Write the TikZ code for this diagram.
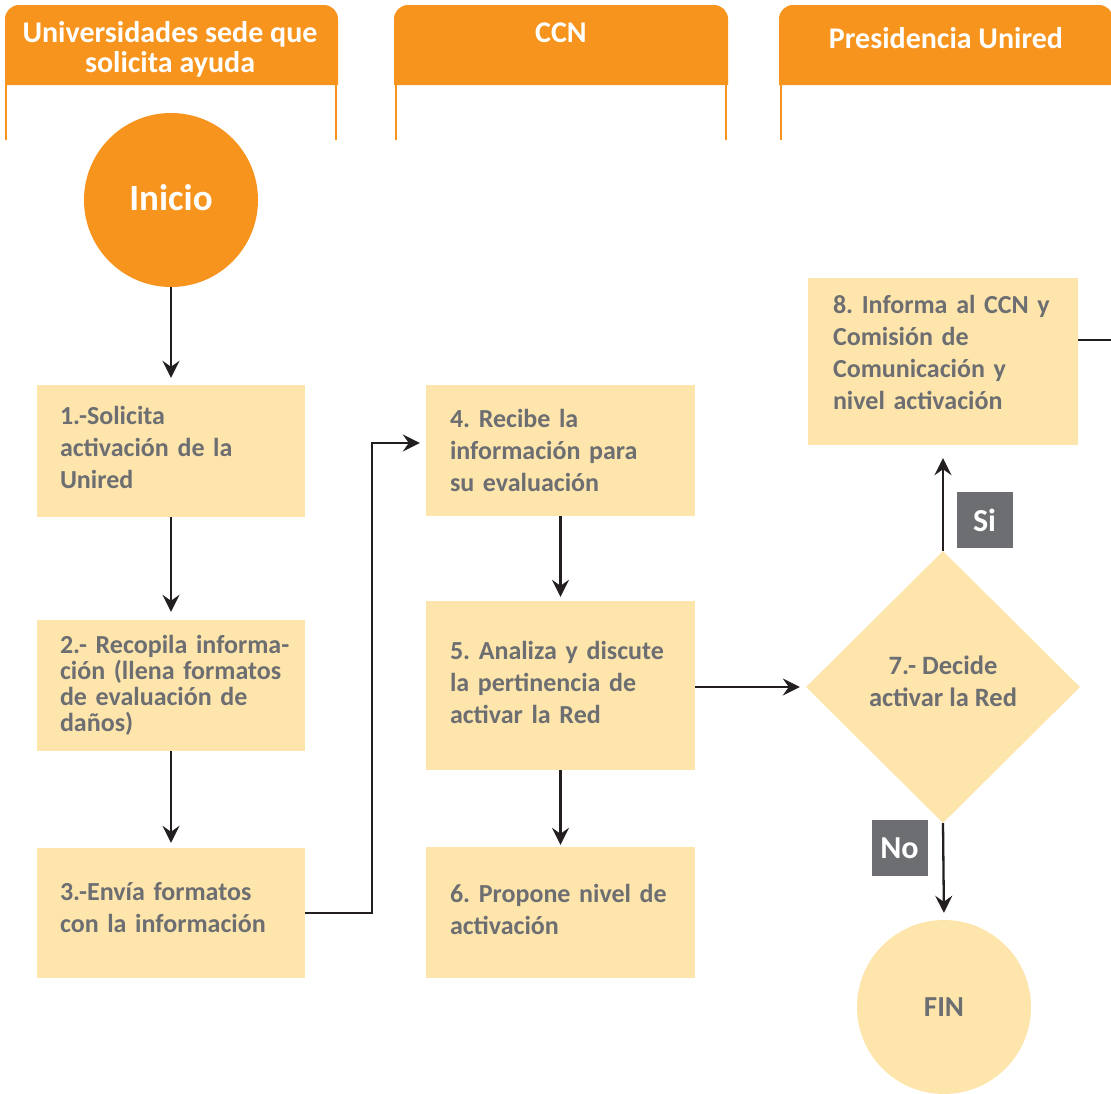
\documentclass[tikz,border=0pt]{standalone}
\usepackage{fontspec}
\setmainfont{Carlito}
\usetikzlibrary{arrows.meta,shapes.geometric}
\definecolor{uorange}{HTML}{F7941D}
\definecolor{ufill}{HTML}{FDE5AC}
\definecolor{ugray}{HTML}{6D6E71}
\definecolor{uline}{HTML}{231F20}
\begin{document}
\frenchspacing\hyphenpenalty=10000\relax
\begin{tikzpicture}[x=1pt,y=-1pt,
  stepbox/.style={fill=ufill, inner sep=0pt},
  steptext/.style={inner sep=0pt, align=left, text width=222pt,
    font=\fontsize{26}{32}\selectfont\bfseries, text=ugray},
  conn/.style={draw=uline, line width=2.3pt, -{Stealth[length=17pt,width=17pt,inset=6pt]}},
  hdrtext/.style={text=white, font=\fontsize{30}{30}\selectfont\bfseries, align=center, inner sep=0pt},
  lane/.style={draw=uorange, line width=2pt},
  lbl/.style={fill=ugray, text=white, font=\fontsize{32}{34}\selectfont\bfseries,
    minimum width=56pt, minimum height=56pt, inner sep=0pt},
  bigcirc/.style={circle, minimum size=174pt, inner sep=0pt}
]
\useasboundingbox (0,0) rectangle (1111,1093);
\clip (0,0) rectangle (1111,1093);

% lane headers
\fill[uorange] (5,85) [rounded corners=14pt] -- (5,5) -- (338,5) [sharp corners] -- (338,85) -- cycle;
\fill[uorange] (394,85) [rounded corners=14pt] -- (394,5) -- (728,5) [sharp corners] -- (728,85) -- cycle;
\fill[uorange] (779,85) [rounded corners=14pt] -- (779,5) -- (1113,5) [sharp corners] -- (1113,85) -- cycle;
\draw[lane] (6,85) -- (6,140);
\draw[lane] (336,85) -- (336,140);
\draw[lane] (396,85) -- (396,140);
\draw[lane] (726,85) -- (726,140);
\draw[lane] (781,85) -- (781,140);

\node[hdrtext] (h1) at (170,49) {Universidades sede que\\solicita ayuda};
\node[hdrtext] (h2) at (561,33) {CCN};
\node[hdrtext] (h3) at (946,38) {Presidencia Unired};

% start / end
\node[bigcirc, fill=uorange, text=white, font=\fontsize{37}{40}\selectfont\bfseries] (inicio) at (171,200) {\raisebox{5pt}{Inicio}};
\node[bigcirc, fill=ufill, text=ugray, font=\fontsize{29}{32}\selectfont\bfseries] (fin) at (944,1007) {FIN};

% step boxes
\node[stepbox, minimum width=268pt, minimum height=132pt] (b1) at (171,451) {};
\node[steptext, yshift=4pt] (t1) at (b1) {1.-Solicita\\activación de la\\Unired};

\node[stepbox, minimum width=268pt, minimum height=131pt] (b2) at (171,685.5) {};
\node[steptext, font=\fontsize{26}{26}\selectfont\bfseries] (t2) at (b2)
  {\mbox{2.- Recopila informa-}\\\mbox{ción (llena formatos}\\\mbox{de evaluación de}\\daños)};

\node[stepbox, minimum width=268pt, minimum height=130pt] (b3) at (171,913) {};
\node[steptext, yshift=5pt] (t3) at (b3) {3.-Envía formatos\\con la información};

\node[stepbox, minimum width=269pt, minimum height=131pt] (b4) at (560.5,450.5) {};
\node[steptext, xshift=0.5pt] (t4) at (b4) {4. Recibe la\\información para\\su evaluación};

\node[stepbox, minimum width=269pt, minimum height=169pt] (b5) at (560.5,685.5) {};
\node[steptext, xshift=0.5pt, yshift=3pt] (t5) at (b5) {5. Analiza y discute\\la pertinencia de\\activar la Red};

\node[stepbox, minimum width=269pt, minimum height=131pt] (b6) at (560.5,912.5) {};
\node[steptext, xshift=0.5pt, yshift=3pt] (t6) at (b6) {6. Propone nivel de\\activación};

\node[stepbox, minimum width=270pt, minimum height=167pt] (b8) at (943,361.5) {};
\node[steptext, xshift=1pt, yshift=9pt] (t8) at (b8) {8. Informa al CCN y\\Comisión de\\Comunicación y\\nivel activación};

% decision
\node[diamond, aspect=1, fill=ufill, minimum width=274pt, minimum height=272pt, inner sep=0pt] (d7) at (943,687) {};
\node[inner sep=0pt, align=center, text=ugray, font=\fontsize{26.5}{32}\selectfont\bfseries, yshift=6pt] (t7) at (d7) {7.- Decide\\activar la Red};

\node[lbl] (si) at (984.5,520) {Si};
\node[lbl] (no) at (899.5,848) {No};

\coordinate (edge) at (1111,340);

% connectors
\draw[conn, shorten >=7pt] (inicio) -- (b1);
\draw[conn, shorten >=8pt] (b1) -- (b2);
\draw[conn, shorten >=5pt] (b2) -- (b3);
\draw[conn, shorten >=6pt] (b3.east) -- ++(67,0) |- ([yshift=7.5pt]b4.west);
\draw[conn, shorten >=4pt] (b4) -- (b5);
\draw[conn, shorten >=2pt] (b5) -- (b6);
\draw[conn, shorten >=6pt] (b5.east |- d7) -- (d7.west);
\draw[conn, shorten >=13pt] (d7.north) -- (b8.south);
\draw[conn, shorten >=7pt] (d7.south) -- (fin.north);
\draw[draw=uline, line width=2.3pt] (b8.east |- edge) -- (edge);
\end{tikzpicture}
\end{document}
